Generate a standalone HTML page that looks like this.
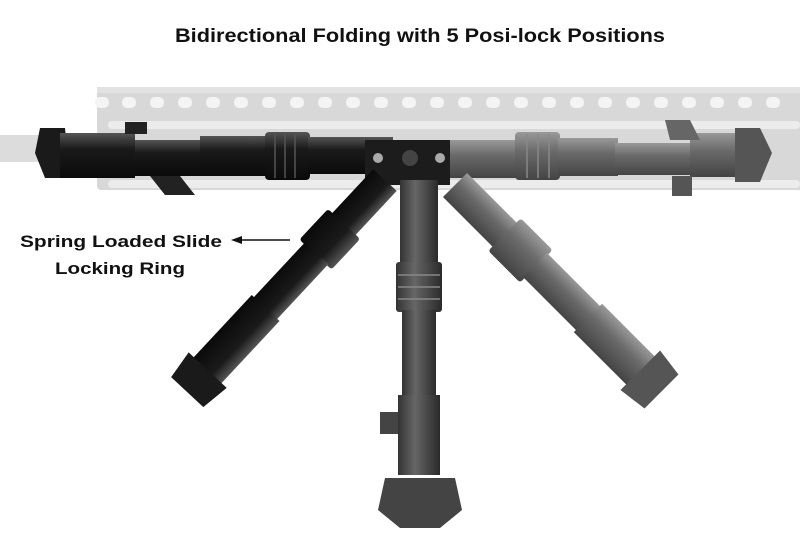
<!DOCTYPE html>
<html><head><meta charset="utf-8"><style>
html,body{margin:0;padding:0;background:#fff;width:800px;height:533px;overflow:hidden}
svg{display:block}
text{font-family:"Liberation Sans",sans-serif;font-weight:bold;fill:#111}
</style></head><body>
<svg width="800" height="533" viewBox="0 0 800 533">
<defs>
<linearGradient id="gd" x1="0" y1="0" x2="0" y2="1"><stop offset="0" stop-color="#555"/><stop offset=".35" stop-color="#1a1a1a"/><stop offset="1" stop-color="#0a0a0a"/></linearGradient>
<linearGradient id="gg" x1="0" y1="0" x2="0" y2="1"><stop offset="0" stop-color="#999"/><stop offset=".4" stop-color="#6a6a6a"/><stop offset="1" stop-color="#444"/></linearGradient>
<linearGradient id="gm" x1="0" y1="0" x2="1" y2="0"><stop offset="0" stop-color="#333"/><stop offset=".4" stop-color="#666"/><stop offset="1" stop-color="#2a2a2a"/></linearGradient>
</defs>
<text x="175" y="42" font-size="19" textLength="490" lengthAdjust="spacingAndGlyphs">Bidirectional Folding with 5 Posi-lock Positions</text>
<!-- barrel -->
<rect x="0" y="135" width="100" height="27" fill="#dcdcdc"/>
<!-- rail -->
<rect x="97" y="87" width="710" height="103" rx="4" fill="#d8d8d8"/>
<rect x="97" y="87" width="710" height="6" fill="#e2e2e2"/>
<g fill="#f4f4f4">
<rect x="95" y="97" width="14" height="11" rx="5"/><rect x="122" y="97" width="14" height="11" rx="5"/>
<rect x="150" y="97" width="14" height="11" rx="5"/><rect x="178" y="97" width="14" height="11" rx="5"/>
<rect x="206" y="97" width="14" height="11" rx="5"/><rect x="234" y="97" width="14" height="11" rx="5"/>
<rect x="262" y="97" width="14" height="11" rx="5"/><rect x="290" y="97" width="14" height="11" rx="5"/>
<rect x="318" y="97" width="14" height="11" rx="5"/><rect x="346" y="97" width="14" height="11" rx="5"/>
<rect x="374" y="97" width="14" height="11" rx="5"/><rect x="402" y="97" width="14" height="11" rx="5"/>
<rect x="430" y="97" width="14" height="11" rx="5"/><rect x="458" y="97" width="14" height="11" rx="5"/>
<rect x="486" y="97" width="14" height="11" rx="5"/><rect x="514" y="97" width="14" height="11" rx="5"/>
<rect x="542" y="97" width="14" height="11" rx="5"/><rect x="570" y="97" width="14" height="11" rx="5"/>
<rect x="598" y="97" width="14" height="11" rx="5"/><rect x="626" y="97" width="14" height="11" rx="5"/>
<rect x="654" y="97" width="14" height="11" rx="5"/><rect x="682" y="97" width="14" height="11" rx="5"/>
<rect x="710" y="97" width="14" height="11" rx="5"/><rect x="738" y="97" width="14" height="11" rx="5"/>
<rect x="766" y="97" width="14" height="11" rx="5"/>
</g>
<g fill="#ececec">
<rect x="108" y="121" width="692" height="8" rx="4"/>
<rect x="108" y="180" width="692" height="8" rx="4"/>
</g>
<!-- left horizontal leg (black) -->
<polygon points="40,128 65,128 70,178 45,178 35,153" fill="#1a1a1a"/>
<rect x="60" y="133" width="75" height="45" fill="url(#gd)"/>
<rect x="125" y="122" width="22" height="12" fill="#222"/>
<rect x="135" y="140" width="75" height="36" fill="url(#gd)"/>
<rect x="200" y="136" width="70" height="40" fill="url(#gd)"/>
<rect x="265" y="132" width="45" height="48" rx="4" fill="url(#gd)"/>
<g stroke="#555" stroke-width="1.5"><line x1="275" y1="134" x2="275" y2="178"/><line x1="285" y1="134" x2="285" y2="178"/><line x1="295" y1="134" x2="295" y2="178"/></g>
<rect x="308" y="137" width="85" height="37" fill="url(#gd)"/>
<polygon points="150,176 180,176 195,195 165,195" fill="#222"/>
<!-- right horizontal leg (gray) -->
<rect x="440" y="140" width="80" height="38" fill="url(#gg)"/>
<rect x="515" y="132" width="45" height="48" rx="4" fill="url(#gg)"/>
<g stroke="#888" stroke-width="1.5"><line x1="527" y1="134" x2="527" y2="178"/><line x1="538" y1="134" x2="538" y2="178"/><line x1="549" y1="134" x2="549" y2="178"/></g>
<rect x="558" y="138" width="60" height="38" fill="url(#gg)"/>
<rect x="615" y="143" width="80" height="32" fill="url(#gg)"/>
<rect x="690" y="133" width="45" height="44" fill="url(#gg)"/>
<polygon points="735,128 760,128 772,153 760,182 735,182" fill="#555"/>
<polygon points="665,120 690,120 700,140 670,140" fill="#666"/>
<rect x="672" y="176" width="20" height="20" fill="#555"/>
<!-- hub -->
<rect x="365" y="140" width="85" height="45" fill="#1c1c1c"/>
<circle cx="410" cy="158" r="8" fill="#444"/>
<circle cx="378" cy="158" r="5" fill="#aaa"/>
<circle cx="440" cy="158" r="5" fill="#aaa"/>
<!-- diagonal left leg -->
<g transform="translate(385,180) rotate(133)">
 <rect x="0" y="-16" width="70" height="32" fill="url(#gd)"/>
 <rect x="60" y="-22" width="42" height="44" rx="3" fill="url(#gd)"/>
 <rect x="100" y="-16" width="80" height="32" fill="url(#gd)"/>
 <rect x="175" y="-19" width="90" height="38" fill="url(#gd)"/>
 <polygon points="260,-26 290,-22 290,22 260,26" fill="#1a1a1a"/>
</g>
<!-- middle leg -->
<rect x="400" y="180" width="38" height="90" fill="url(#gm)"/>
<rect x="396" y="262" width="46" height="50" rx="3" fill="url(#gm)"/>
<g stroke="#888" stroke-width="1.5"><line x1="398" y1="275" x2="440" y2="275"/><line x1="398" y1="287" x2="440" y2="287"/><line x1="398" y1="299" x2="440" y2="299"/></g>
<rect x="402" y="310" width="34" height="90" fill="url(#gm)"/>
<rect x="398" y="395" width="42" height="80" fill="url(#gm)"/>
<polygon points="385,478 455,478 462,510 440,528 400,528 378,510" fill="#444"/>
<rect x="380" y="412" width="18" height="22" fill="#444"/>
<!-- right diagonal leg -->
<g transform="translate(455,185) rotate(45)">
 <rect x="0" y="-17" width="80" height="34" fill="url(#gg)"/>
 <rect x="70" y="-23" width="45" height="46" rx="3" fill="url(#gg)"/>
 <rect x="113" y="-17" width="80" height="34" fill="url(#gg)"/>
 <rect x="188" y="-20" width="80" height="40" fill="url(#gg)"/>
 <polygon points="262,-28 292,-24 292,24 262,28" fill="#555"/>
</g>
<!-- label -->
<text x="20" y="247" font-size="17" textLength="202" lengthAdjust="spacingAndGlyphs">Spring Loaded Slide</text>
<text x="55" y="274" font-size="17" textLength="130" lengthAdjust="spacingAndGlyphs">Locking Ring</text>
<line x1="240" y1="240" x2="290" y2="240" stroke="#111" stroke-width="1.5"/>
<polygon points="231,240 242,236 242,244" fill="#111"/>
</svg>
</body></html>
